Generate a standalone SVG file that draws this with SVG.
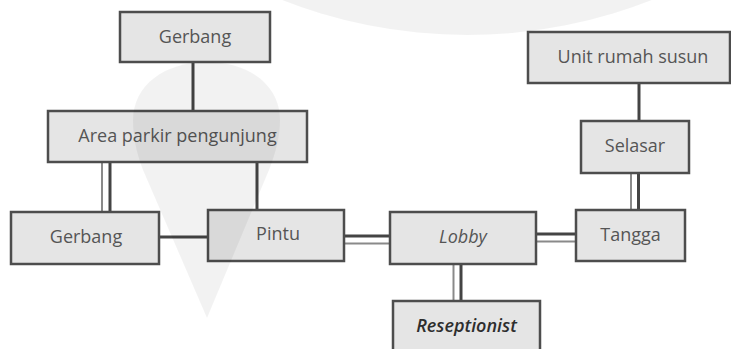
<svg xmlns="http://www.w3.org/2000/svg" width="731" height="349" viewBox="0 0 731 349">
<style>
.box{fill:#e5e5e5;stroke:#4d4d4d;stroke-width:2.5}
.t{font-family:"Open Sans","Liberation Sans",sans-serif;font-size:18px;fill:#555;text-anchor:middle}
.it{font-style:italic}
.bi{font-style:italic;font-weight:600;fill:#2e2e2e}
.dk{stroke:#444;stroke-width:3;fill:none}
.lt{stroke:#8a8a8a;stroke-width:2;fill:none}
.wm{fill:#000;fill-opacity:0.05}
</style>
<rect width="731" height="349" fill="#fff"/>
<g id="connectors">
<line class="dk" x1="193" y1="62" x2="193" y2="111"/>
<line class="lt" x1="102" y1="162" x2="102" y2="212"/>
<line class="dk" x1="110" y1="162" x2="110" y2="212"/>
<line class="dk" x1="257" y1="162" x2="257" y2="210"/>
<line class="dk" x1="159" y1="237" x2="208" y2="237"/>
<line class="dk" x1="344" y1="236" x2="390" y2="236"/>
<line class="lt" x1="344" y1="243.5" x2="390" y2="243.5"/>
<line class="dk" x1="536" y1="234" x2="576" y2="234"/>
<line class="lt" x1="536" y1="241.5" x2="576" y2="241.5"/>
<line class="lt" x1="453.5" y1="264" x2="453.5" y2="301"/>
<line class="dk" x1="461" y1="264" x2="461" y2="301"/>
<line class="dk" x1="639" y1="83" x2="639" y2="121"/>
<line class="lt" x1="631" y1="173" x2="631" y2="210"/>
<line class="dk" x1="638.5" y1="173" x2="638.5" y2="210"/>
</g>
<g id="gerbang-top"><rect class="box" x="120" y="12" width="150" height="50"/><text class="t" x="195" y="43">Gerbang</text></g>
<g id="area-parkir"><rect class="box" x="48" y="111" width="259" height="51"/><text class="t" x="177.5" y="142">Area parkir pengunjung</text></g>
<g id="gerbang-left"><rect class="box" x="11" y="212" width="148" height="52"/><text class="t" x="86" y="243">Gerbang</text></g>
<g id="pintu"><rect class="box" x="208" y="210" width="136" height="51"/><text class="t" x="278" y="240">Pintu</text></g>
<g id="lobby"><rect class="box" x="390" y="212" width="146" height="52"/><text class="t it" x="463" y="243">Lobby</text></g>
<g id="tangga"><rect class="box" x="576" y="210" width="109" height="51"/><text class="t" x="630.5" y="241">Tangga</text></g>
<g id="reseptionist"><rect class="box" x="393" y="301" width="147" height="60"/><text class="t bi" x="466.5" y="332">Reseptionist</text></g>
<g id="unit-rumah-susun"><rect class="box" x="528" y="32" width="202" height="51"/><text class="t" x="633" y="63">Unit rumah susun</text></g>
<g id="selasar"><rect class="box" x="581" y="121" width="108" height="52"/><text class="t" x="635" y="152">Selasar</text></g>
<g id="watermark">
<path class="wm" d="M207 318 L143 170 C136 152 133 136 133 120 C133 85 165 62 207 62 C249 62 280 85 280 120 C280 136 276 152 269 170 Z"/>
<circle class="wm" cx="467" cy="-471" r="506"/>
</g>
</svg>
